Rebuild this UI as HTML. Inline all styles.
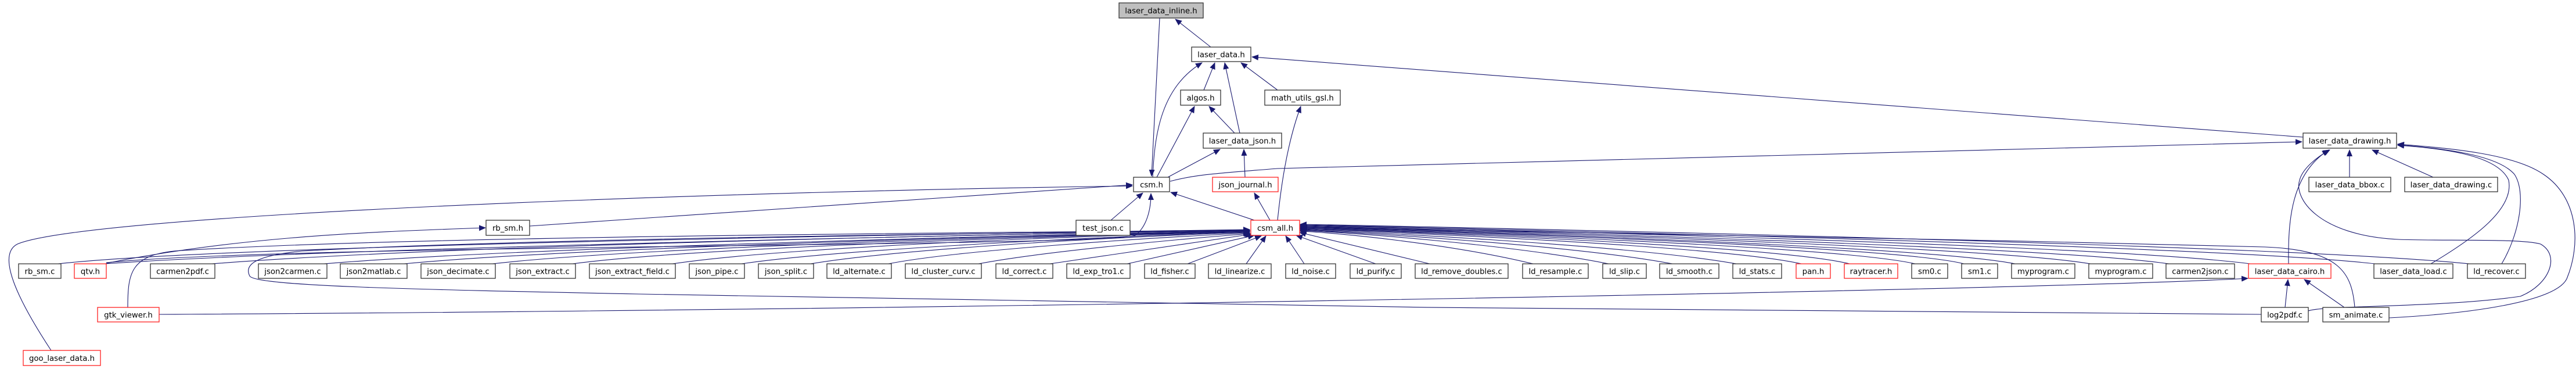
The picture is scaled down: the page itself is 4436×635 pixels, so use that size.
<!DOCTYPE html>
<html><head><meta charset="utf-8"><style>
html,body{margin:0;padding:0;background:#fff;}
svg{display:block;}
text{font-family:"DejaVu Sans","Liberation Sans",sans-serif;font-size:13.3px;fill:#000;text-anchor:middle;}
.n{fill:#fff;stroke:#333;stroke-width:1.3;}
.r{fill:#fff;stroke:#ff2020;stroke-width:1.3;}
.g{fill:#bfbfbf;stroke:#333;stroke-width:1.3;}
path.e{fill:none;stroke:#191970;stroke-width:1.1;}
</style></head><body>
<svg width="4436" height="635" viewBox="0 0 4436 635" xmlns="http://www.w3.org/2000/svg">
<defs>
<marker id="a" markerUnits="userSpaceOnUse" markerWidth="12" markerHeight="10" refX="11" refY="5" orient="auto">
<path d="M0,0 L12,5 L0,10 z" fill="#191970"/>
</marker>
</defs>
<g id="edges">
<path class="e" marker-end="url(#a)" d="M2085,81 L2024,33"/>
<path class="e" marker-end="url(#a)" d="M1997,31 L1983,303"/>
<path class="e" marker-end="url(#a)" d="M1985,305 C1988,230 2000,150 2070,108"/>
<path class="e" marker-end="url(#a)" d="M2073,155 L2092,108"/>
<path class="e" marker-end="url(#a)" d="M2135,229 L2109,108"/>
<path class="e" marker-end="url(#a)" d="M2200,155 L2137,108"/>
<path class="e" marker-end="url(#a)" d="M3966,236 L2156,98"/>
<path class="e" marker-end="url(#a)" d="M1992,305 L2057,183"/>
<path class="e" marker-end="url(#a)" d="M2126,229 L2082,183"/>
<path class="e" marker-end="url(#a)" d="M2011,305 L2101,257"/>
<path class="e" marker-end="url(#a)" d="M2144,305 L2142,257"/>
<path class="e" marker-end="url(#a)" d="M2015,312 C2060,300 2100,298 2200,290 L3964,244"/>
<path class="e" marker-end="url(#a)" d="M2187,379 L2160,332"/>
<path class="e" marker-end="url(#a)" d="M2200,379 C2205,330 2215,250 2240,183"/>
<path class="e" marker-end="url(#a)" d="M1913,379 L1968,332"/>
<path class="e" marker-end="url(#a)" d="M2160,379 L2016,331"/>
<path class="e" marker-end="url(#a)" d="M912,389 L1950,318"/>
<path class="e" marker-end="url(#a)" d="M88,603 C40,530 -10,440 30,420 C150,370 1200,330 1950,320"/>
<path class="e" marker-end="url(#a)" d="M183,453 C400,410 600,400 836,392"/>
<path class="e" marker-end="url(#a)" d="M183,452 C500,420 1900,425 1955,405 C1975,390 1982,360 1982,333"/>
<path class="e" marker-end="url(#a)" d="M220,529 C220,470 225,440 300,432 C700,405 1800,400 2152,396"/>
<path class="e" marker-end="url(#a)" d="M274,541 C1500,535 3500,500 3871,479"/>
<path class="e" marker-end="url(#a)" d="M3894,541 C3000,538 2000,525 1100,506 C700,498 440,492 430,475 C420,455 440,440 520,432 C900,410 1800,400 2152,397"/>
<path class="e" marker-end="url(#a)" d="M3975,535 C4000,525 4200,530 4340,510 C4390,490 4410,440 4375,420 C4340,410 4200,415 4130,412 C3990,405 3950,340 3960,310 C3965,290 3990,270 4012,258"/>
<path class="e" marker-end="url(#a)" d="M3941,454 C3940,380 3945,300 4010,258"/>
<path class="e" marker-end="url(#a)" d="M4046,305 L4046,258"/>
<path class="e" marker-end="url(#a)" d="M4190,305 L4085,258"/>
<path class="e" marker-end="url(#a)" d="M4186,454 C4260,410 4330,360 4320,310 C4300,265 4200,255 4129,250"/>
<path class="e" marker-end="url(#a)" d="M4308,454 C4340,400 4350,330 4330,300 C4300,265 4200,255 4129,249"/>
<path class="e" marker-end="url(#a)" d="M4114,547 C4250,540 4400,520 4420,480 C4445,420 4440,340 4380,300 C4330,265 4220,255 4129,248"/>
<path class="e" marker-end="url(#a)" d="M3935,529 L3940,481"/>
<path class="e" marker-end="url(#a)" d="M4037,529 L3968,481"/>
<path class="e" marker-end="url(#a)" d="M4055,529 C4050,470 4030,430 3900,425 C3300,410 2600,395 2240,391"/>
<!-- bottom row to csm_all.h -->
<path class="e" marker-end="url(#a)" d="M100,454 C400,420 1800,400 2152,395"/>
<path class="e" marker-end="url(#a)" d="M180,454 C600,425 1800,402 2152,396"/>
<path class="e" marker-end="url(#a)" d="M365,454 C800,420 1800,402 2152,396"/>
<path class="e" marker-end="url(#a)" d="M558,454 C900,425 1850,403 2152,397"/>
<path class="e" marker-end="url(#a)" d="M696,454 C1000,425 1850,403 2152,397"/>
<path class="e" marker-end="url(#a)" d="M848,454 C1100,425 1850,404 2152,398"/>
<path class="e" marker-end="url(#a)" d="M986,454 C1200,425 1900,404 2152,398"/>
<path class="e" marker-end="url(#a)" d="M1158,454 C1350,425 1900,404 2152,399"/>
<path class="e" marker-end="url(#a)" d="M1277,454 C1450,428 1950,405 2152,399"/>
<path class="e" marker-end="url(#a)" d="M1396,454 C1550,428 1950,406 2152,400"/>
<path class="e" marker-end="url(#a)" d="M1530,454 C1650,430 2000,408 2152,401"/>
<path class="e" marker-end="url(#a)" d="M1685,454 C1800,432 2050,410 2153,402"/>
<path class="e" marker-end="url(#a)" d="M1808,454 L2155,403"/>
<path class="e" marker-end="url(#a)" d="M1941,454 L2160,405"/>
<path class="e" marker-end="url(#a)" d="M2045,454 L2172,406"/>
<path class="e" marker-end="url(#a)" d="M2146,454 L2180,406"/>
<path class="e" marker-end="url(#a)" d="M2246,454 L2214,406"/>
<path class="e" marker-end="url(#a)" d="M2369,454 L2232,405"/>
<path class="e" marker-end="url(#a)" d="M2462,454 L2238,400"/>
<path class="e" marker-end="url(#a)" d="M2640,454 C2500,420 2300,400 2239,398"/>
<path class="e" marker-end="url(#a)" d="M2770,454 C2600,420 2300,398 2239,397"/>
<path class="e" marker-end="url(#a)" d="M2880,454 C2700,420 2300,398 2239,396"/>
<path class="e" marker-end="url(#a)" d="M2990,454 C2800,420 2300,397 2239,395"/>
<path class="e" marker-end="url(#a)" d="M3102,454 C2950,420 2300,396 2239,394"/>
<path class="e" marker-end="url(#a)" d="M3185,454 C3050,420 2300,395 2239,393"/>
<path class="e" marker-end="url(#a)" d="M3298,454 C3150,420 2300,394 2239,393"/>
<path class="e" marker-end="url(#a)" d="M3382,454 C3250,420 2300,393 2239,392"/>
<path class="e" marker-end="url(#a)" d="M3470,454 C3300,420 2300,392 2239,391"/>
<path class="e" marker-end="url(#a)" d="M3600,454 C3400,420 2300,391 2239,390"/>
<path class="e" marker-end="url(#a)" d="M3735,454 C3500,420 2300,390 2239,389"/>
<path class="e" marker-end="url(#a)" d="M3875,454 C3600,418 2300,389 2239,388"/>
<path class="e" marker-end="url(#a)" d="M4090,454 C3800,420 2300,388 2239,387"/>
<path class="e" marker-end="url(#a)" d="M4252,454 C3900,418 2300,387 2239,386"/>
</g>
<g id="nodes">
<rect class="g" x="1927" y="5" width="145" height="26"/><text x="1999.5" y="23">laser_data_inline.h</text>
<rect class="n" x="2052" y="81" width="102" height="25"/><text x="2103" y="98.5">laser_data.h</text>
<rect class="n" x="2033" y="155" width="69" height="26"/><text x="2067.5" y="173">algos.h</text>
<rect class="n" x="2178" y="155" width="130" height="26"/><text x="2243" y="173">math_utils_gsl.h</text>
<rect class="n" x="2072" y="229" width="135" height="26"/><text x="2139.5" y="247">laser_data_json.h</text>
<rect class="n" x="3966" y="229" width="161" height="26"/><text x="4046.5" y="247">laser_data_drawing.h</text>
<rect class="n" x="1952" y="305" width="62" height="25"/><text x="1983" y="322.5">csm.h</text>
<rect class="r" x="2088" y="305" width="113" height="25"/><text x="2144.5" y="322.5">json_journal.h</text>
<rect class="n" x="3976" y="305" width="141" height="25"/><text x="4046.5" y="322.5">laser_data_bbox.c</text>
<rect class="n" x="4141" y="305" width="160" height="25"/><text x="4221" y="322.5">laser_data_drawing.c</text>
<rect class="n" x="837" y="379" width="75" height="26"/><text x="874.5" y="397">rb_sm.h</text>
<rect class="n" x="1853" y="379" width="93" height="26"/><text x="1899.5" y="397">test_json.c</text>
<rect class="r" x="2154" y="379" width="84" height="26"/><text x="2196" y="397">csm_all.h</text>
<rect class="r" x="168" y="529" width="106" height="25"/><text x="221" y="546.5">gtk_viewer.h</text>
<rect class="n" x="3894" y="529" width="81" height="25"/><text x="3934.5" y="546.5">log2pdf.c</text>
<rect class="n" x="4000" y="529" width="114" height="25"/><text x="4057" y="546.5">sm_animate.c</text>
<rect class="r" x="40" y="603" width="133" height="26"/><text x="106.5" y="621">goo_laser_data.h</text>

<rect class="n" x="32" y="454" width="73" height="25"/><text x="68.5" y="471.5">rb_sm.c</text>
<rect class="r" x="128" y="454" width="55" height="25"/><text x="155.5" y="471.5">qtv.h</text>
<rect class="n" x="259" y="454" width="111" height="25"/><text x="314.5" y="471.5">carmen2pdf.c</text>
<rect class="n" x="445" y="454" width="118" height="25"/><text x="504" y="471.5">json2carmen.c</text>
<rect class="n" x="586" y="454" width="115" height="25"/><text x="643.5" y="471.5">json2matlab.c</text>
<rect class="n" x="725" y="454" width="128" height="25"/><text x="789" y="471.5">json_decimate.c</text>
<rect class="n" x="878" y="454" width="113" height="25"/><text x="934.5" y="471.5">json_extract.c</text>
<rect class="n" x="1015" y="454" width="148" height="25"/><text x="1089" y="471.5">json_extract_field.c</text>
<rect class="n" x="1187" y="454" width="95" height="25"/><text x="1234.5" y="471.5">json_pipe.c</text>
<rect class="n" x="1306" y="454" width="95" height="25"/><text x="1353.5" y="471.5">json_split.c</text>
<rect class="n" x="1424" y="454" width="111" height="25"/><text x="1479.5" y="471.5">ld_alternate.c</text>
<rect class="n" x="1559" y="454" width="131" height="25"/><text x="1624.5" y="471.5">ld_cluster_curv.c</text>
<rect class="n" x="1715" y="454" width="98" height="25"/><text x="1764" y="471.5">ld_correct.c</text>
<rect class="n" x="1837" y="454" width="109" height="25"/><text x="1891.5" y="471.5">ld_exp_tro1.c</text>
<rect class="n" x="1971" y="454" width="87" height="25"/><text x="2014.5" y="471.5">ld_fisher.c</text>
<rect class="n" x="2081" y="454" width="108" height="25"/><text x="2135" y="471.5">ld_linearize.c</text>
<rect class="n" x="2214" y="454" width="86" height="25"/><text x="2257" y="471.5">ld_noise.c</text>
<rect class="n" x="2325" y="454" width="88" height="25"/><text x="2369" y="471.5">ld_purify.c</text>
<rect class="n" x="2437" y="454" width="160" height="25"/><text x="2517" y="471.5">ld_remove_doubles.c</text>
<rect class="n" x="2622" y="454" width="113" height="25"/><text x="2678.5" y="471.5">ld_resample.c</text>
<rect class="n" x="2760" y="454" width="75" height="25"/><text x="2797.5" y="471.5">ld_slip.c</text>
<rect class="n" x="2858" y="454" width="102" height="25"/><text x="2909" y="471.5">ld_smooth.c</text>
<rect class="n" x="2984" y="454" width="84" height="25"/><text x="3026" y="471.5">ld_stats.c</text>
<rect class="r" x="3093" y="454" width="59" height="25"/><text x="3122.5" y="471.5">pan.h</text>
<rect class="r" x="3176" y="454" width="92" height="25"/><text x="3222" y="471.5">raytracer.h</text>
<rect class="n" x="3292" y="454" width="62" height="25"/><text x="3323" y="471.5">sm0.c</text>
<rect class="n" x="3378" y="454" width="62" height="25"/><text x="3409" y="471.5">sm1.c</text>
<rect class="n" x="3464" y="454" width="109" height="25"/><text x="3518.5" y="471.5">myprogram.c</text>
<rect class="n" x="3597" y="454" width="110" height="25"/><text x="3652" y="471.5">myprogram.c</text>
<rect class="n" x="3730" y="454" width="118" height="25"/><text x="3789" y="471.5">carmen2json.c</text>
<rect class="r" x="3872" y="454" width="142" height="25"/><text x="3943" y="471.5">laser_data_cairo.h</text>
<rect class="n" x="4088" y="454" width="136" height="25"/><text x="4156" y="471.5">laser_data_load.c</text>
<rect class="n" x="4249" y="454" width="100" height="25"/><text x="4299" y="471.5">ld_recover.c</text>
</g>
</svg>
</body></html>
